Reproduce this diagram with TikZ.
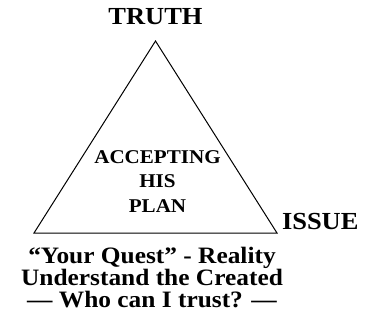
\documentclass[tikz,border=0pt]{standalone}
\usepackage{fontspec}
\setmainfont{Liberation Serif}[FakeStretch=1.08]
\usetikzlibrary{positioning}

\begin{document}
\begin{tikzpicture}[
    x=1pt, y=-1pt,
    every node/.style={inner sep=0pt, outer sep=0pt},
    corner/.style={font=\bfseries\fontsize{24.5}{24}\selectfont},
    inside/.style={font=\bfseries\fontsize{19.5}{24.5}\selectfont, align=center},
    caption/.style={font=\bfseries\fontsize{23.5}{22}\selectfont, align=center},
    line width=1pt,
]
\useasboundingbox (0,0) rectangle (366,327);

% the triangle
\coordinate (top) at (155.5,41);
\coordinate (left) at (34,233);
\coordinate (right) at (277,233);
\draw[line join=miter] (top) -- (right) -- (left) -- cycle;

% labels at the corners
\node[corner, above=16pt of top] (truth) {TRUTH};
\node[corner, anchor=base west] (issue) at (282,229) {ISSUE};

% text in the middle (base = last line)
\node[inside, anchor=base] (plan) at (157.5,212) {ACCEPTING\\HIS\\PLAN};

% text under the base
\node[caption, anchor=base] (quest) at (152,307)
    {“Your Quest” - Reality\\Understand the Created\\--- Who can I trust? ---};
\end{tikzpicture}
\end{document}
